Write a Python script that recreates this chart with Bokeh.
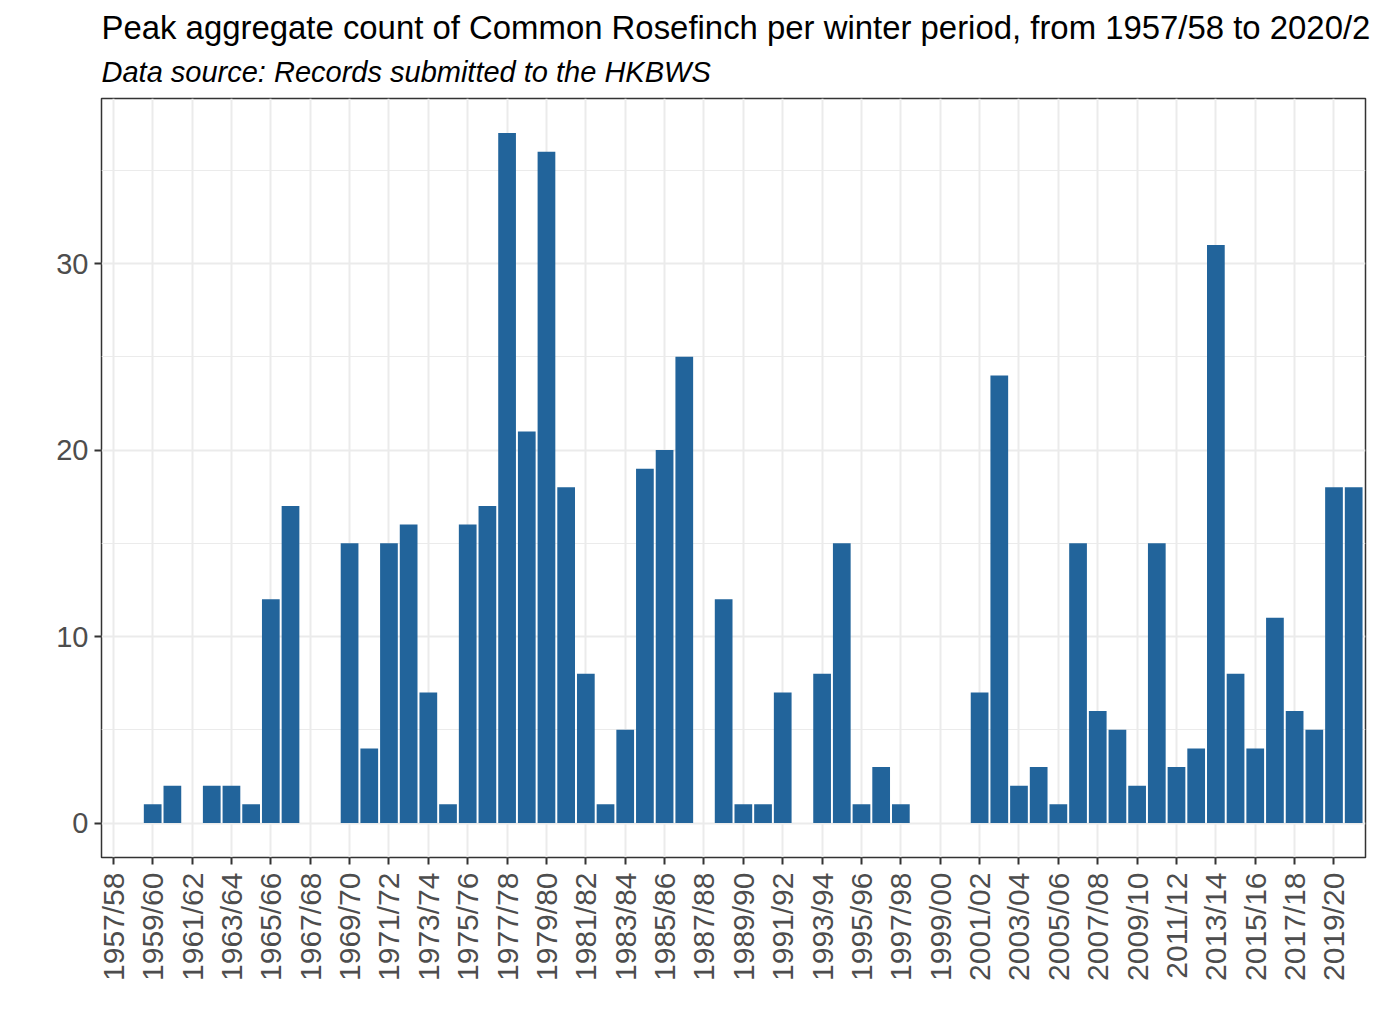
import math
from bokeh.plotting import figure
from bokeh.models import FixedTicker, Title, ColumnDataSource
from bokeh.embed import file_html
from bokeh.resources import INLINE

# ---- data ----
seasons = [f"{y}/{(y + 1) % 100:02d}" for y in range(1957, 2021)]
counts = [0, 0, 1, 2, 0, 2, 2, 1, 12, 17,
          0, 0, 15, 4, 15, 16, 7, 1, 16, 17,
          37, 21, 36, 18, 8, 1, 5, 19, 20, 25,
          0, 12, 1, 1, 7, 0, 8, 15, 1, 3,
          1, 0, 0, 0, 7, 24, 2, 3, 1, 15,
          6, 5, 2, 15, 3, 4, 31, 8, 4, 11,
          6, 5, 18, 18]
label_step = 2
y_ticks = [0, 10, 20, 30]
y_minor = [5, 15, 25, 35]

title_text = "Peak aggregate count of Common Rosefinch per winter period, from 1957/58 to 2020/21"
subtitle_text = "Data source: Records submitted to the HKBWS"

idx = list(range(len(seasons)))
src = ColumnDataSource(dict(x=idx, top=counts, season=seasons))

n = len(seasons)
ymax = max(counts)
pad = 0.05 * ymax

FONT = "Liberation Sans"

p = figure(width=1371, height=1026,
           x_range=(-0.6, n - 1 + 0.6), y_range=(-pad, ymax + pad),
           output_backend="svg", toolbar_location=None,
           title=title_text,
           min_border_left=101, min_border_right=6,
           min_border_top=98, min_border_bottom=169)

p.title.text_font = FONT
p.title.text_font_size = "32.9px"
p.title.text_font_style = "normal"
p.title.text_color = "#000000"
p.title.align = "left"
p.title.standoff = 2

sub = Title(text=subtitle_text, text_font=FONT, text_font_size="29px",
            text_font_style="italic", text_color="#000000", align="left",
            vertical_align="top", standoff=18)
p.add_layout(sub, "above")

p.vbar(x="x", top="top", width=0.9, source=src,
       fill_color="#22649B", line_color=None)

tick_pos = idx[::label_step]
p.xaxis.ticker = FixedTicker(ticks=tick_pos)
p.xaxis.major_label_overrides = {i: seasons[i] for i in tick_pos}
p.xaxis.major_label_orientation = math.pi / 2
p.yaxis.ticker = FixedTicker(ticks=y_ticks, minor_ticks=y_minor)

for ax in (p.xaxis, p.yaxis):
    ax.major_label_text_font = FONT
    ax.major_label_text_color = "#4D4D4D"
    ax.axis_line_color = None
    ax.major_tick_line_color = "#333333"
    ax.major_tick_line_width = 2
    ax.major_tick_out = 7
    ax.major_tick_in = 0
    ax.minor_tick_line_color = None

p.xaxis.major_label_text_font_size = "30px"
p.xaxis.major_label_standoff = 8
p.yaxis.major_label_text_font_size = "29px"
p.yaxis.major_label_standoff = 6

p.xgrid.ticker = FixedTicker(ticks=tick_pos)
p.xgrid.grid_line_color = "#EBEBEB"
p.xgrid.grid_line_width = 2
p.ygrid.grid_line_color = "#EBEBEB"
p.ygrid.grid_line_width = 2
p.ygrid.minor_grid_line_color = "#EBEBEB"
p.ygrid.minor_grid_line_width = 1.2

p.outline_line_color = "#333333"
p.outline_line_width = 1.5
p.background_fill_color = "white"
p.border_fill_color = "white"

open("out.html", "w").write(file_html(p, INLINE))
